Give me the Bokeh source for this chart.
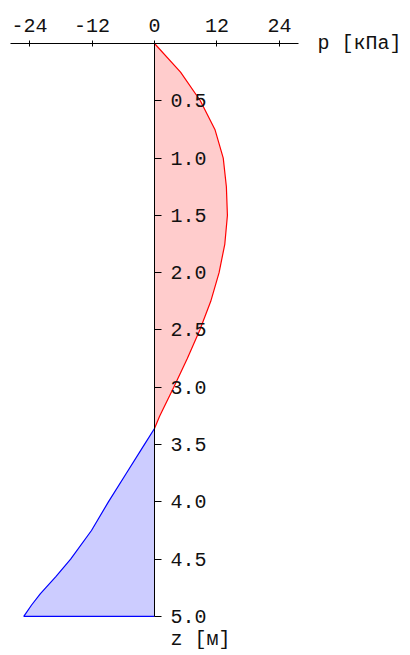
from bokeh.plotting import figure
from bokeh.models import LinearAxis, FixedTicker, Range1d, Label
from bokeh.embed import file_html
from bokeh.resources import INLINE

# --- data ---
z_pos = [0.0, 0.25, 0.5, 0.75, 1.0, 1.25, 1.5, 1.75, 2.0, 2.25, 2.5, 2.75, 3.0, 3.25, 3.36]
p_pos = [0.0, 5.0, 8.8, 11.6, 13.2, 13.8, 14.0, 13.5, 12.4, 10.8, 8.7, 6.3, 3.7, 1.0, 0.0]
z_neg = [3.36, 3.5, 3.75, 4.0, 4.25, 4.5, 4.65, 4.8, 4.9, 5.0]
p_neg = [0.0, -1.95, -5.4, -8.85, -12.1, -16.1, -18.9, -21.9, -23.6, -25.1]
p_ticks = [-24, -12, 0, 12, 24]
p_tick_labels = ["-24", "-12", "0", "12", "24"]
z_ticks = [0.5, 1.0, 1.5, 2.0, 2.5, 3.0, 3.5, 4.0, 4.5, 5.0]
z_tick_labels = ["0.5", "1.0", "1.5", "2.0", "2.5", "3.0", "3.5", "4.0", "4.5", "5.0"]
p_label = "p [кПа]"
z_label = "z [м]"

FONT = "Liberation Mono"
FS = "20px"

W, H = 408, 654
p = figure(width=W, height=H, output_backend="svg", toolbar_location=None,
           x_axis_location=None, y_axis_location=None,
           x_range=Range1d(-29.57, 48.77), y_range=Range1d(5.332, -0.375),
           min_border_left=0, min_border_right=0, min_border_top=0, min_border_bottom=0)
p.outline_line_color = None
p.xgrid.visible = False
p.ygrid.visible = False
p.background_fill_color = "white"

# filled areas
p.patch(x=[0.0] + p_pos + [0.0], y=[z_pos[0]] + z_pos + [z_pos[-1]],
        fill_color="#ffcccc", line_color=None)
p.patch(x=[0.0] + p_neg + [0.0], y=[z_neg[0]] + z_neg + [z_neg[-1]],
        fill_color="#ccccff", line_color=None)
p.line(x=p_pos, y=z_pos, line_color="#ff0000", line_width=1.2)
p.line(x=p_neg + [0.0], y=z_neg + [z_neg[-1]], line_color="#0000ff", line_width=1.2)

# top axis at z = 0
ax_top = LinearAxis(fixed_location=0.0, bounds=(-27.6, 27.6), ticker=FixedTicker(ticks=p_ticks),
                    major_label_overrides={t: l for t, l in zip(p_ticks, p_tick_labels)})
ax_top.major_tick_in = 3
ax_top.major_tick_out = 3
ax_top.minor_tick_line_color = None
ax_top.major_label_standoff = 8
ax_top.major_label_text_font = FONT
ax_top.major_label_text_font_size = FS
ax_top.major_label_text_color = "#111111"
ax_top.axis_line_color = "black"
ax_top.major_tick_line_color = "black"
p.add_layout(ax_top, "above")

# vertical axis at p = 0
ax_z = LinearAxis(fixed_location=0.0, bounds=(0.0, 5.0), ticker=FixedTicker(ticks=z_ticks),
                  major_label_overrides={t: l for t, l in zip(z_ticks, z_tick_labels)})
ax_z.major_tick_in = 0
ax_z.major_tick_out = 7
ax_z.minor_tick_line_color = None
ax_z.major_label_standoff = 9
ax_z.major_label_text_font = FONT
ax_z.major_label_text_font_size = FS
ax_z.major_label_text_color = "#111111"
ax_z.axis_line_color = "black"
ax_z.major_tick_line_color = "black"
p.add_layout(ax_z, "right")

p.add_layout(Label(x=31.3, y=0.0, text=p_label, text_font=FONT, text_font_size=FS,
                   text_baseline="middle", text_align="left", text_color="#111111"))
p.add_layout(Label(x=3.07, y=5.2, text=z_label, text_font=FONT, text_font_size=FS,
                   text_baseline="middle", text_align="left", text_color="#111111"))

open("out.html", "w").write(file_html(p, INLINE))
